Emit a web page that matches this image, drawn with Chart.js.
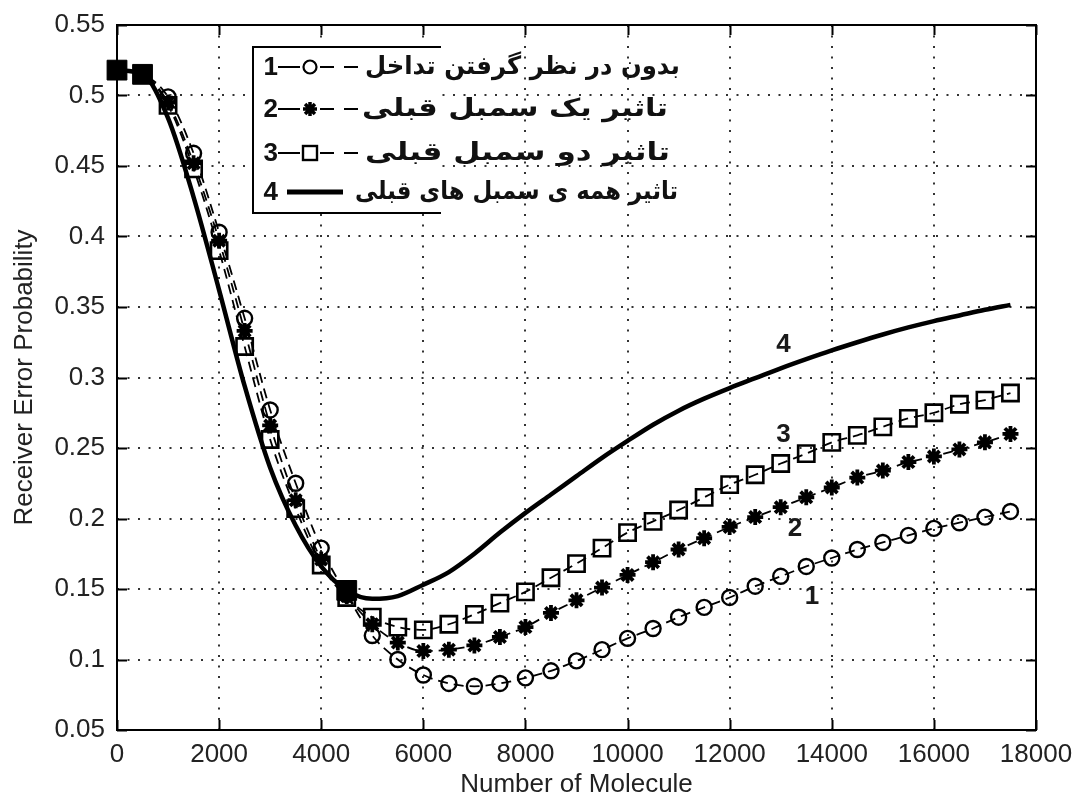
<!DOCTYPE html>
<html><head><meta charset="utf-8">
<script src="https://cdn.jsdelivr.net/npm/chart.js@4.4.1/dist/chart.umd.min.js"></script>
<style>html,body{margin:0;padding:0;background:#fff;}canvas{display:block}</style>
</head><body>
<canvas id="c" width="1077" height="800" style="width:1077px;height:800px"></canvas>
<script>
// ---- data ----
const xValues = [0,500,1000,1500,2000,2500,3000,3500,4000,4500,5000,5500,6000,6500,7000,7500,8000,8500,
  9000,9500,10000,10500,11000,11500,12000,12500,13000,13500,14000,14500,15000,15500,16000,16500,17000,17500];
const seriesNoInterference = [0.518,0.515,0.499,0.459,0.403,0.342,0.277,0.225,0.179,0.146,
  0.117,0.100,0.089,0.083,0.081,0.083,0.087,0.092,0.099,0.107,
  0.115,0.122,0.130,0.137,0.144,0.152,0.159,0.166,0.172,0.178,
  0.183,0.188,0.193,0.197,0.201,0.205];
const seriesOnePrevious = [0.518,0.515,0.495,0.452,0.397,0.333,0.266,0.213,0.171,0.145,
  0.125,0.112,0.106,0.107,0.110,0.116,0.123,0.133,0.142,0.151,
  0.160,0.169,0.178,0.186,0.194,0.201,0.208,0.215,0.222,0.229,
  0.234,0.240,0.244,0.249,0.254,0.260];
const seriesTwoPrevious = [0.518,0.515,0.493,0.448,0.390,0.322,0.256,0.207,0.167,0.144,
  0.130,0.123,0.121,0.125,0.132,0.140,0.148,0.158,0.168,0.179,
  0.190,0.198,0.206,0.215,0.224,0.231,0.239,0.246,0.254,0.259,
  0.265,0.271,0.275,0.281,0.284,0.289];
const seriesAllPrevious = [0.518,0.515,0.484,0.428,0.362,0.294,0.236,0.195,0.166,0.149,
  0.143,0.145,0.153,0.162,0.175,0.190,0.204,0.217,0.230,0.243,
  0.255,0.2665,0.2765,0.285,0.2925,0.2995,0.3065,0.313,0.3192,0.325,
  0.3305,0.3355,0.340,0.344,0.348,0.3515];
const seriesNames = ['بدون در نظر گرفتن تداخل','تاثیر یک سمبل قبلی','تاثیر دو سمبل قبلی','تاثیر همه ی سمبل های قبلی'];
const curveNumbers = ['1','2','3','4'];
const xTickLabels = ['0','2000','4000','6000','8000','10000','12000','14000','16000','18000'];
const yTickLabels = ['0.05','0.1','0.15','0.2','0.25','0.3','0.35','0.4','0.45','0.5','0.55'];
const xTitle = 'Number of Molecule';
const yTitle = 'Receiver Error Probability';

// ---- build ----
const allSeries = [seriesNoInterference, seriesOnePrevious, seriesTwoPrevious, seriesAllPrevious];
const pts = ys => xValues.map((x, i) => ({x: x, y: ys[i]}));
// points where all curves coincide are drawn as a solid black blob (overlapping markers)
const coincident = xValues.map((_, i) => {
  const v = allSeries.map(s => s[i]);
  return Math.max(...v) - Math.min(...v) <= 0.006;
});

const FONT = "'Liberation Sans', Arial, sans-serif";
Chart.defaults.font.family = FONT;
Chart.defaults.color = '#222';

const base = {borderColor: '#000', pointBorderColor: '#000', pointBackgroundColor: 'rgba(0,0,0,0)',
  cubicInterpolationMode: 'monotone', clip: false, fill: false};

const datasets = [
  Object.assign({}, base, {label: seriesNames[0], data: pts(seriesNoInterference), borderWidth: 1.8, borderDash: [10, 6],
    pointStyle: 'circle', pointRadius: 7.5, pointBorderWidth: 2.4, order: 2}),
  Object.assign({}, base, {label: seriesNames[1], data: pts(seriesOnePrevious), borderWidth: 1.8, borderDash: [10, 6],
    pointStyle: 'star', pointRadius: 8, pointBorderWidth: 3.8, order: 3}),
  Object.assign({}, base, {label: seriesNames[2], data: pts(seriesTwoPrevious), borderWidth: 1.8, borderDash: [10, 6],
    pointStyle: 'rect', pointRadius: 11.5, pointBorderWidth: 2.6, order: 4}),
  Object.assign({}, base, {label: seriesNames[3], data: pts(seriesAllPrevious), borderWidth: 4.5,
    pointStyle: 'rect', pointBackgroundColor: '#000',
    pointRadius: c => coincident[c.dataIndex] ? 14 : 0, pointBorderWidth: 1, order: 1})
];

const framePlugin = {
  id: 'frame',
  afterDatasetsDraw(chart) {
    const {ctx, chartArea: a, scales: {x, y}} = chart;
    ctx.save();
    ctx.strokeStyle = '#000';
    ctx.lineWidth = 2;
    ctx.setLineDash([]);
    ctx.strokeRect(a.left, a.top, a.right - a.left, a.bottom - a.top);
    ctx.beginPath();
    x.ticks.forEach(t => {
      const px = Math.round(x.getPixelForValue(t.value)) + 0.5;
      ctx.moveTo(px, a.bottom); ctx.lineTo(px, a.bottom - 10);
      ctx.moveTo(px, a.top); ctx.lineTo(px, a.top + 10);
    });
    y.ticks.forEach(t => {
      const py = Math.round(y.getPixelForValue(t.value)) + 0.5;
      ctx.moveTo(a.left, py); ctx.lineTo(a.left + 10, py);
      ctx.moveTo(a.right, py); ctx.lineTo(a.right - 10, py);
    });
    ctx.stroke();
    ctx.restore();
  }
};

// curve number labels, placed in data coordinates
const curveLabelSpots = [{x: 13614, y: 0.1443}, {x: 13277, y: 0.193}, {x: 13053, y: 0.259}, {x: 13053, y: 0.323}];

const legendPlugin = {
  id: 'customLegend',
  afterDraw(chart) {
    const {ctx, scales: {x, y}} = chart;
    ctx.save();
    // curve numbers
    ctx.fillStyle = '#1a1a1a';
    ctx.font = 'bold 26px ' + FONT;
    ctx.textAlign = 'center';
    ctx.textBaseline = 'middle';
    curveLabelSpots.forEach((p, i) => {
      ctx.fillText(curveNumbers[i], x.getPixelForValue(p.x), y.getPixelForValue(p.y));
    });

    // legend box (left, top and bottom edges)
    const L = 253, T = 47, B = 213, R = 441;
    ctx.fillStyle = '#fff';
    ctx.fillRect(L, T, R - L, B - T);
    ctx.strokeStyle = '#000';
    ctx.lineWidth = 2;
    ctx.beginPath();
    ctx.moveTo(R, T); ctx.lineTo(L, T); ctx.lineTo(L, B); ctx.lineTo(R, B);
    ctx.stroke();

    const rows = [67, 109, 153, 192];
    rows.forEach((ry, i) => {
      ctx.fillStyle = '#111';
      ctx.font = 'bold 26px ' + FONT;
      ctx.textAlign = 'right';
      ctx.textBaseline = 'middle';
      ctx.direction = 'ltr';
      ctx.fillText(curveNumbers[i], 278, ry + 1);
      ctx.strokeStyle = '#000';
      if (i < 3) {
        ctx.lineWidth = 2.2;
        ctx.beginPath();
        ctx.moveTo(278, ry); ctx.lineTo(300, ry);
        ctx.moveTo(320, ry); ctx.lineTo(334, ry);
        ctx.moveTo(344, ry); ctx.lineTo(358, ry);
        ctx.stroke();
        const mx = 310;
        ctx.beginPath();
        if (i === 0) {
          ctx.lineWidth = 2.2;
          ctx.arc(mx, ry, 6.5, 0, Math.PI * 2);
          ctx.stroke();
        } else if (i === 1) {
          ctx.lineWidth = 3.5;
          for (let k = 0; k < 4; k++) {
            const ang = k * Math.PI / 4;
            ctx.moveTo(mx - 7 * Math.cos(ang), ry - 7 * Math.sin(ang));
            ctx.lineTo(mx + 7 * Math.cos(ang), ry + 7 * Math.sin(ang));
          }
          ctx.stroke();
        } else {
          ctx.lineWidth = 2.4;
          ctx.strokeRect(mx - 7, ry - 7, 14, 14);
        }
      } else {
        ctx.lineWidth = 5;
        ctx.beginPath();
        ctx.moveTo(287, ry); ctx.lineTo(343, ry);
        ctx.stroke();
      }
    });

    // Persian labels, each fitted between its left and right edge
    const spans = [[365, 680], [362, 668], [365, 670], [355, 678]];
    ctx.font = 'bold 25px "DejaVu Sans"';
    ctx.direction = 'rtl';
    ctx.textAlign = 'right';
    ctx.textBaseline = 'middle';
    ctx.fillStyle = '#111';
    rows.forEach((ry, i) => {
      const w = ctx.measureText(seriesNames[i]).width || 1;
      const sx = (spans[i][1] - spans[i][0]) / w;
      ctx.save();
      ctx.translate(spans[i][0], ry);
      ctx.scale(sx, 1);
      ctx.fillText(seriesNames[i], w, 0);
      ctx.restore();
    });
    ctx.restore();
  }
};

new Chart(document.getElementById('c'), {
  type: 'line',
  data: {datasets: datasets},
  options: {
    responsive: false,
    animation: false,
    events: [],
    layout: {padding: {top: 25, right: 41, left: 0, bottom: 0}},
    plugins: {legend: {display: false}, tooltip: {enabled: false}},
    scales: {
      x: {
        type: 'linear', min: 0, max: 18000,
        ticks: {stepSize: 2000, padding: 9, maxRotation: 0, autoSkip: false,
          font: {size: 26}, color: '#222',
          callback: (v, i) => xTickLabels[i]},
        grid: {color: '#333', lineWidth: 2, drawTicks: false},
        border: {display: false, dash: [2, 8.5]},
        title: {display: true, text: xTitle, font: {size: 26}, color: '#222', padding: {top: 0, bottom: 0}},
        afterFit: s => { s.height = 70; s.paddingLeft = 0; s.paddingRight = 0; }
      },
      y: {
        type: 'linear', min: 0.05, max: 0.55,
        ticks: {stepSize: 0.05, padding: 12, autoSkip: false,
          font: {size: 26}, color: '#222',
          callback: (v, i) => yTickLabels[i]},
        grid: {color: '#333', lineWidth: 2, drawTicks: false},
        border: {display: false, dash: [2, 8.5]},
        title: {display: true, text: yTitle, font: {size: 26}, color: '#222', padding: {top: 9, bottom: 0}},
        afterFit: s => { s.width = 117; s.paddingTop = 0; s.paddingBottom = 0; }
      }
    }
  },
  plugins: [framePlugin, legendPlugin]
});
</script>
</body></html>
